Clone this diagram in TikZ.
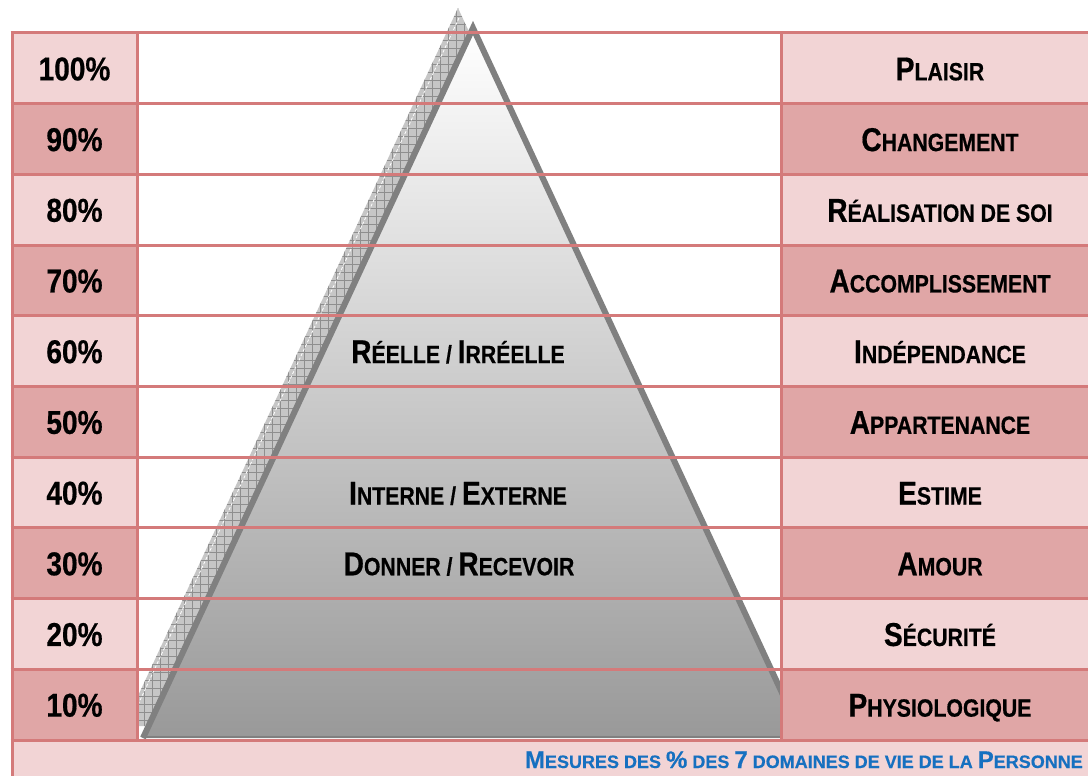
\documentclass[tikz,border=0pt]{standalone}
\usepackage{fontspec}
\usetikzlibrary{patterns.meta}
\newfontfamily\labfont[FakeStretch=0.85,FakeBold=0.5]{Liberation Sans}
\newfontfamily\legfont[FakeBold=0.4]{Liberation Sans}
\definecolor{lightc}{HTML}{F2D4D5}
\definecolor{darkc}{HTML}{E0A6A6}
\definecolor{gridc}{HTML}{D47A7A}
\definecolor{bluec}{HTML}{1670C0}
\definecolor{shadc}{HTML}{C6C6C6}
\definecolor{shadl}{HTML}{8E8E8E}
\definecolor{pyrc}{HTML}{808080}
\newcommand\Ca[1]{{\fontsize{33}{33}\selectfont #1}}
\newcommand\Cb[1]{{\fontsize{25}{25}\selectfont #1}}
\newcommand\Da[1]{{\fontsize{24}{24}\selectfont #1}}
\newcommand\Db[1]{{\fontsize{18}{18}\selectfont #1}}
\begin{document}
\begin{tikzpicture}[x=1pt,y=-1pt,
  gridline/.style={draw=gridc,line width=3pt},
  lab/.style={anchor=base,inner sep=0pt,font=\labfont\bfseries},
  leg/.style={anchor=base east,inner sep=0pt,font=\legfont\bfseries,text=bluec},
]
\useasboundingbox (0,0) rectangle (1088,776);
\fill[white] (0,0) rectangle (1088,776);
% shadow of the pyramid
\fill[shadc] (458,8) -- (124,726) -- (792,726) -- cycle;
\fill[pattern={Lines[angle=0,distance=8pt,line width=0.8pt]},pattern color=shadl] (458,8) -- (124,726) -- (792,726) -- cycle;
\fill[pattern={Lines[angle=90,distance=8pt,line width=0.8pt]},pattern color=shadl] (458,8) -- (124,726) -- (792,726) -- cycle;
\draw[white,line width=0.8pt,dash pattern=on 3pt off 2pt] (459,18) -- (128,726);
% pyramid
\shade[top color=white,bottom color=black!40] (473,28) -- (143,738) -- (803,738) -- cycle;
\draw[pyrc,line width=6pt,line join=miter] (143,738) -- (473,28) -- (803,738);
\draw[black!50,line width=2pt] (143,737) -- (803,737);
% column fills
\foreach \i in {0,...,9}{
  \pgfmathsetmacro\ya{33+70.7*\i}
  \pgfmathsetmacro\yb{33+70.7*(\i+1)}
  \ifodd\i
    \fill[darkc] (12,\ya) rectangle (137,\yb);
    \fill[darkc] (781,\ya) rectangle (1100,\yb);
  \else
    \fill[lightc] (12,\ya) rectangle (137,\yb);
    \fill[lightc] (781,\ya) rectangle (1100,\yb);
  \fi
}
\fill[lightc] (12,740) rectangle (1100,780);
% grid lines
\foreach \i in {0,...,10}{
  \pgfmathsetmacro\ya{33+70.7*\i}
  \draw[gridline] (10.5,\ya) -- (1100,\ya);
}
\draw[gridline] (12,31.5) -- (12,780);
\draw[gridline] (137,31.5) -- (137,741.5);
\draw[gridline] (781,31.5) -- (781,741.5);
% percentage labels
\foreach \t [count=\i from 0] in {100,90,80,70,60,50,40,30,20,10}{
  \pgfmathsetmacro\yy{33+70.7*(\i+0.5)+12}
  \node[lab] (pct\t) at (74.5,\yy) {\Ca{\t\%}};
}
% domain labels
\node[lab] (plaisir) at (940,80.35) {\Ca{P}\Cb{LAISIR}};
\node[lab] (changement) at (940,151.05) {\Ca{C}\Cb{HANGEMENT}};
\node[lab] (realisation) at (940,221.75) {\Ca{R}\Cb{ÉALISATION DE SOI}};
\node[lab] (accomplissement) at (940,292.45) {\Ca{A}\Cb{CCOMPLISSEMENT}};
\node[lab] (independance) at (940,363.15) {\Ca{I}\Cb{NDÉPENDANCE}};
\node[lab] (appartenance) at (940,433.85) {\Ca{A}\Cb{PPARTENANCE}};
\node[lab] (estime) at (940,504.55) {\Ca{E}\Cb{STIME}};
\node[lab] (amour) at (940,575.25) {\Ca{A}\Cb{MOUR}};
\node[lab] (securite) at (940,645.95) {\Ca{S}\Cb{ÉCURITÉ}};
\node[lab] (physio) at (940,716.65) {\Ca{P}\Cb{HYSIOLOGIQUE}};
% pyramid labels
\node[lab] (reelle) at (458,363.15) {\Ca{R}\Cb{ÉELLE / }\Ca{I}\Cb{RRÉELLE}};
\node[lab] (interne) at (458,504.55) {\Ca{I}\Cb{NTERNE / }\Ca{E}\Cb{XTERNE}};
\node[lab] (donner) at (459,575.25) {\Ca{D}\Cb{ONNER / }\Ca{R}\Cb{ECEVOIR}};
% legend
\node[leg] (legend) at (1083,768) {\Da{M}\Db{ESURES DES }\Da{\%}\Db{ DES }\Da{7}\Db{ DOMAINES DE VIE DE LA }\Da{P}\Db{ERSONNE}};
\end{tikzpicture}
\end{document}
